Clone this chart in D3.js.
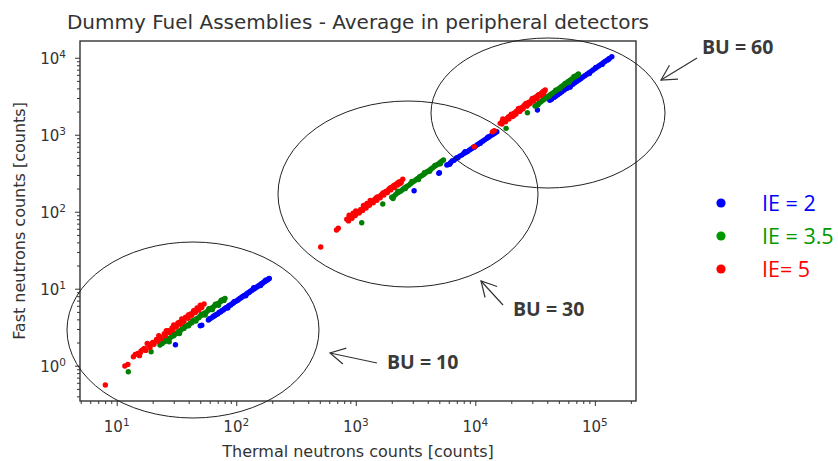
<!DOCTYPE html>
<html>
<head>
<meta charset="utf-8">
<script src="https://cdn.jsdelivr.net/npm/d3@7"></script>
<style>
  body { margin: 0; background: #fff; }
  svg { display: block; }
</style>
</head>
<body>
<div id="chart"></div>
<script>
// Series: [thermal counts, fast counts] (BU 10, 30, 60 groups)
const ie2 = [
  [31,1.87],[50,3.30],[51.5,3.36],[58.5,3.92],[60,4.08],[61,4.12],[63,4.25],[64.5,4.38],[66,4.45],[68,4.62],
  [70,4.70],[72,4.95],[74,5.00],[76,5.22],[78,5.30],[80,5.49],[82,5.65],[84,5.72],[86,5.92],[88,6.10],
  [90,6.15],[93,6.45],[95,6.58],[98,6.80],[100,6.95],[103,7.10],[105,7.32],[108,7.55],[110,7.62],[113,7.92],
  [116,8.12],[119,8.30],[122,8.55],[125,8.80],[128,8.95],[131,9.30],[135,9.50],[138,9.82],[142,10.0],[146,10.4],
  [150,10.6],[154,10.95],[158,11.2],[162,11.6],[166,11.8],[170,12.2],[174,12.4],[178,12.8],[182,13.0],[186,13.4],
  [189,13.6],[85,5.6],[96,6.8],[120,8.1],[140,10.3],[160,11.0],[176,12.9],
  [3076,187],[5010,321],[4950,316],[5780,404],[5950,410],[6200,434],[6400,455],[6650,467],[6900,490],[7150,503],
  [7400,528],[7700,544],[8000,570],[8300,588],[8600,605],[8950,635],[9300,660],[9650,687],[10000,712],[10400,742],
  [10800,770],[11200,802],[11600,830],[12050,864],[12500,900],[13000,934],[13500,975],[14000,1009],[14600,1050],[15140,1094],
  [6100,415],[7000,505],[8200,600],[9800,690],[11000,775],[12800,935],[14300,1040],
  [33100,2094],[49600,3510],[42000,2797],[43500,2900],[45500,3053],[47000,3150],[49000,3309],[51000,3450],[53000,3604],[55500,3800],
  [58300,4000],[60500,4180],[63000,4353],[65500,4530],[68000,4730],[70500,4920],[73500,5150],[76500,5380],[79500,5611],[82500,5850],
  [86000,6109],[89500,6380],[93000,6655],[96500,6930],[100500,7244],[104500,7560],[108500,7880],[112500,8200],[117000,8556],[121500,8930],
  [126500,9311],[132000,9780],[138700,10300],[62000,4150],[75000,5300],[90000,6250],[102000,7500],[115000,8200],[130000,9500]
];

const ie35 = [
  [12.5,0.836],[19.4,1.52],[23,1.86],[24,1.95],[25,2.04],[26,2.10],[27,2.22],[28,2.30],[29,2.41],[30,2.45],
  [31,2.59],[32,2.66],[33,2.78],[34,2.85],[35,2.97],[36.5,3.05],[38,3.25],[39.5,3.38],[41,3.54],[42.5,3.62],
  [44,3.83],[45.5,3.95],[47,4.12],[48.5,4.20],[50,4.41],[52,4.55],[54,4.81],[56,4.95],[58,5.20],[60,5.38],
  [62,5.60],[64,5.75],[66,6.00],[68,6.20],[70,6.41],[72,6.55],[74,6.82],[76,7.00],[78,7.23],[80.5,7.50],
  [24.5,2.15],[27.5,2.05],[30.5,2.60],[33.5,2.62],[37,3.25],[40,3.30],[43,3.85],[46,3.80],[51,4.65],[55,4.55],
  [59,5.50],[63,5.35],[67,6.30],[71,6.10],[75,7.10],[79,7.05],
  [1122,72],[1682,126],[2000,154],[2080,158],[2150,167],[2230,175],[2300,180],[2390,186],[2480,196],[2570,205],
  [2670,213],[2770,220],[2870,231],[2970,242],[3080,250],[3190,260],[3300,270],[3420,284],[3550,293],[3670,303],
  [3800,316],[3940,330],[4080,342],[4230,356],[4380,370],[4540,386],[4700,401],[4870,415],[5050,434],[5230,452],
  [5410,469],[2050,148],[2250,185],[2600,200],[2950,248],[3350,262],[3750,322],[4150,335],[4600,398],[5100,420],
  [18100,1211],[27300,1932],[31600,2360],[32800,2450],[34000,2568],[35200,2670],[36500,2782],[37800,2890],[39200,3020],[40600,3140],
  [42100,3278],[43600,3400],[45200,3554],[46800,3690],[48500,3854],[50200,4000],[52000,4172],[53900,4340],[55800,4524],[57800,4700],
  [59900,4906],[62100,5100],[64300,5322],[66400,5520],[68500,5718],[70700,5930],[72900,6140],
  [33500,2450],[38500,3050],[41500,3150],[47000,3800],[51000,3950],[56500,4650],[61000,4800],[67000,5700],[71500,5850]
];

const ie5 = [
  [8.03,0.561],[11.7,0.99],[12.4,1.04],[13.8,1.31],[14.3,1.40],[15,1.44],[15.5,1.35],[16,1.55],[16.5,1.62],[17,1.67],
  [17.5,1.58],[18.5,1.84],[19,1.72],[20,2.01],[20.5,1.90],[21.5,2.19],[22,2.08],[23,2.37],[23.5,2.25],[25,2.61],
  [25.5,2.45],[27,2.85],[27.5,2.70],[29,3.09],[29.5,2.92],[31,3.34],[31.5,3.18],[33.5,3.66],[34,3.45],[36,3.97],
  [36.5,3.78],[39,4.36],[39.5,4.12],[42,4.75],[42.5,4.52],[45,5.15],[45.5,4.90],[48,5.54],[48.5,5.30],[51,5.95],
  [51.5,5.70],[53.8,6.33],[18,1.95],[22.5,2.45],[26,2.85],[30,3.38],[35,4.05],[40,4.60],[44,5.20],[50,6.10],
  [15.8,1.48],[19.5,1.92],[28,2.80],[32.5,3.60],[37.5,4.25],[47,5.62],
  [509,34.8],[690,58],[714,60.9],[841,79.7],[870,76],[900,85.9],[930,82],[960,92.3],[990,89],[1030,99.8],
  [1065,96],[1100,107],[1140,104],[1180,116],[1220,112],[1260,125],[1300,121],[1350,135],[1400,131],[1450,146],
  [1500,141],[1550,157],[1600,152],[1660,170],[1720,165],[1780,183],[1840,178],[1900,197],[1960,192],[2030,212],
  [2100,206],[2170,228],[2240,222],[2320,246],[2400,240],[2472,264],[880,90],[1000,102],[1160,121],[1320,140],
  [1500,154],[1700,176],[1950,205],[2250,238],[9800,700],[13900,1090],[14400,1130],
  [950,96],[1080,100],[1240,128],[1420,140],[1620,163],[1850,188],[2080,220],[2350,232],
  [16150,1406],[16700,1380],[17300,1521],[17900,1480],[18500,1644],[19100,1600],[19800,1777],[20500,1720],[21200,1922],[21900,1860],
  [22700,2079],[23500,2010],[24300,2248],[25100,2170],[26000,2431],[26900,2350],[27800,2624],[28700,2540],[29700,2833],[30700,2740],
  [31800,3062],[32900,2960],[34000,3307],[35100,3200],[36200,3554],[37300,3450],[38450,3810],
  [16800,1500],[19000,1720],[22000,2000],[25500,2380],[29000,2700],[33500,3250],[37800,3700],
  [17000,1600],[18000,1560],[20000,1850],[21000,1780],[23000,2200],[24000,2100],[26500,2550],[27500,2450],
  [30000,2950],[31000,2850],[33000,3150],[35500,3400],[37000,3650]
];

const seriesNames = ["IE = 2", "IE = 3.5", "IE= 5"];
const seriesColors = ["#0000ff", "#008000", "#ff0000"];
const legendColors = ["#0000ff", "#009900", "#ff0000"];

const xMajor = [10, 100, 1000, 10000, 100000];
const yMajor = [1, 10, 100, 1000, 10000];

const buLabels = ["BU = 10", "BU = 30", "BU = 60"];

const width = 838, height = 461;
const plot = {left: 80, right: 636, top: 41, bottom: 401};

const svg = d3.select("#chart").append("svg")
  .attr("width", width)
  .attr("height", height)
  .style("background", "#fff");

const x = d3.scaleLog().domain([4.93, 221000]).range([plot.left, plot.right]);
const y = d3.scaleLog().domain([0.348, 16500]).range([plot.bottom, plot.top]);

// minor ticks 2..9 of each decade, kept inside the domain
function minorTicks(scale) {
  const [a, b] = scale.domain();
  const out = [];
  for (let e = -1; e <= 5; e++) {
    for (let m = 2; m <= 9; m++) {
      const v = m * Math.pow(10, e);
      if (v > a && v < b) out.push(v);
    }
  }
  return out;
}

const axisColor = "#333";
const fontMpl = "'DejaVu Sans', sans-serif";

// axes with ticks
const gx = svg.append("g").attr("transform", `translate(0,${plot.bottom})`);
gx.call(d3.axisBottom(x).tickValues(xMajor).tickSize(5).tickSizeOuter(0).tickFormat(""));
gx.call(g => g.append("g").call(d3.axisBottom(x).tickValues(minorTicks(x)).tickSize(3).tickSizeOuter(0).tickFormat("")));
const gy = svg.append("g").attr("transform", `translate(${plot.left},0)`);
gy.call(d3.axisLeft(y).tickValues(yMajor).tickSize(5).tickSizeOuter(0).tickFormat(""));
gy.call(g => g.append("g").call(d3.axisLeft(y).tickValues(minorTicks(y)).tickSize(3).tickSizeOuter(0).tickFormat("")));
svg.selectAll(".domain").remove();
svg.selectAll(".tick line").attr("stroke", axisColor).attr("stroke-width", 1);

// tick labels as 10^n
xMajor.forEach(v => {
  const t = svg.append("text")
    .attr("x", x(v)).attr("y", 432)
    .attr("text-anchor", "middle")
    .attr("font-family", fontMpl).attr("font-size", 15).attr("fill", axisColor);
  t.append("tspan").text("10");
  t.append("tspan").attr("dy", -6).attr("font-size", 10.5).text(Math.round(Math.log10(v)));
});
yMajor.forEach(v => {
  const t = svg.append("text")
    .attr("x", 66).attr("y", y(v) + 6)
    .attr("text-anchor", "end")
    .attr("font-family", fontMpl).attr("font-size", 15).attr("fill", axisColor);
  t.append("tspan").text("10");
  t.append("tspan").attr("dy", -6).attr("font-size", 10.5).text(Math.round(Math.log10(v)));
});

// points: blue, then green, then red on top
[ie2, ie35, ie5].forEach((s, i) => {
  svg.append("g").selectAll("circle")
    .data(s)
    .enter().append("circle")
    .attr("cx", d => x(d[0]))
    .attr("cy", d => y(d[1]))
    .attr("r", 2.7)
    .attr("fill", seriesColors[i]);
});

// frame
svg.append("rect")
  .attr("x", plot.left).attr("y", plot.top)
  .attr("width", plot.right - plot.left).attr("height", plot.bottom - plot.top)
  .attr("fill", "none").attr("stroke", axisColor).attr("stroke-width", 1.4);

// titles
svg.append("text")
  .attr("x", (plot.left + plot.right) / 2).attr("y", 29)
  .attr("text-anchor", "middle")
  .attr("font-family", fontMpl).attr("font-size", 20).attr("fill", axisColor)
  .text("Dummy Fuel Assemblies - Average in peripheral detectors");
svg.append("text")
  .attr("x", (plot.left + plot.right) / 2).attr("y", 457)
  .attr("text-anchor", "middle")
  .attr("font-family", fontMpl).attr("font-size", 16).attr("fill", axisColor)
  .text("Thermal neutrons counts [counts]");
svg.append("text")
  .attr("transform", `translate(25,${(plot.top + plot.bottom) / 2}) rotate(-90)`)
  .attr("text-anchor", "middle")
  .attr("font-family", fontMpl).attr("font-size", 16).attr("fill", axisColor)
  .text("Fast neutrons counts [counts]");

// hand-drawn style annotations (ellipses, arrows, BU labels)
const ellipses = [
  {cx: 193, cy: 330, rx: 126, ry: 88},
  {cx: 408, cy: 194, rx: 130, ry: 93},
  {cx: 548, cy: 113, rx: 117, ry: 75}
];
const arrows = [
  {from: [377, 363], to: [330, 353]},
  {from: [503, 305], to: [481, 281]},
  {from: [697, 58], to: [661, 80]}
];
const labelPos = [[387, 369], [513, 316], [702, 54]];

svg.append("g").selectAll("ellipse")
  .data(ellipses)
  .enter().append("ellipse")
  .attr("cx", d => d.cx).attr("cy", d => d.cy)
  .attr("rx", d => d.rx).attr("ry", d => d.ry)
  .attr("fill", "none").attr("stroke", "#222").attr("stroke-width", 1);

arrows.forEach(a => {
  const ang = Math.atan2(a.from[1] - a.to[1], a.from[0] - a.to[0]);
  const len = 17, spread = 0.5;
  const p1 = [a.to[0] + len * Math.cos(ang + spread), a.to[1] + len * Math.sin(ang + spread)];
  const p2 = [a.to[0] + len * Math.cos(ang - spread), a.to[1] + len * Math.sin(ang - spread)];
  const line = d3.line();
  svg.append("path").attr("d", line([a.from, a.to])).attr("stroke", "#333").attr("stroke-width", 1.2).attr("fill", "none");
  svg.append("path").attr("d", line([p1, a.to, p2])).attr("stroke", "#333").attr("stroke-width", 1.2).attr("fill", "none");
});

buLabels.forEach((t, i) => {
  svg.append("text")
    .attr("x", labelPos[i][0]).attr("y", labelPos[i][1])
    .attr("font-family", "'Open Sans', sans-serif").attr("font-weight", "bold")
    .attr("font-size", 19.5).attr("fill", "#3a3a3a")
    .text(t);
});

// legend
const legend = svg.append("g");
seriesNames.forEach((n, i) => {
  const ly = 203 + i * 33;
  legend.append("circle").attr("cx", 721).attr("cy", ly).attr("r", 4.6).attr("fill", legendColors[i]);
  legend.append("text")
    .attr("x", 762).attr("y", ly + 8)
    .attr("font-family", "'Open Sans', sans-serif").attr("font-size", 21.5)
    .attr("fill", legendColors[i])
    .text(n);
});
</script>
</body>
</html>
